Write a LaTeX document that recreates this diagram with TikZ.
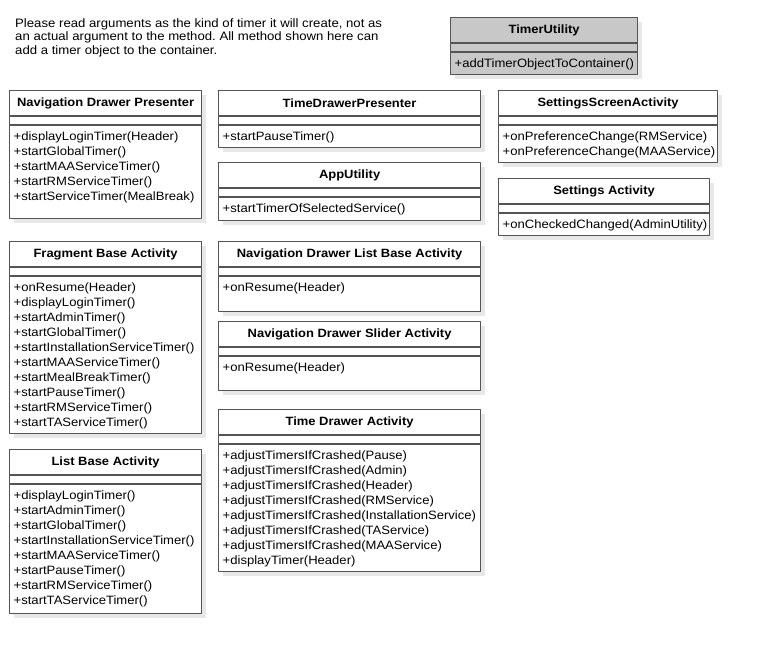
\documentclass[tikz,border=0pt]{standalone}
\usepackage{fontspec}
\setmainfont{Liberation Sans}[FakeStretch=1.08]
\usetikzlibrary{positioning}
\definecolor{edgegray}{HTML}{555555}
\definecolor{shadowgray}{HTML}{E8E8E8}
\definecolor{headgray}{HTML}{C8C8C8}
\newcommand{\classbox}[8][white]{%
  \fill[boxshadow] (#3+5,#4+5) rectangle ++(#5,#6);
  \node[classframe,fill=#1,minimum width=#5pt,minimum height=#6pt,anchor=north west] (#2) at (#3,#4) {};
  \node[classtitle] (#2-t) at ([yshift=-13pt]#2.north) {#7};
  \draw[classframe] ([yshift=-26pt]#2.north west)--([yshift=-26pt]#2.north east)
    ([yshift=-35pt]#2.north west)--([yshift=-35pt]#2.north east);
  \node[classops] (#2-m) at ([xshift=1.5pt,yshift=-39pt]#2.north west) {#8};
}
\begin{document}
\frenchspacing
\begin{tikzpicture}[x=1pt, y=-1pt, line join=round,
  classframe/.style={draw=edgegray, line width=1.2pt, inner sep=0pt},
  boxshadow/.style={shadowgray},
  classtitle/.style={font=\bfseries\fontsize{12}{15}\selectfont, inner sep=0pt},
  classops/.style={font=\fontsize{12.1}{15}\selectfont, align=left, anchor=north west, inner sep=3pt}]
\useasboundingbox[fill=white] (0,0) rectangle (757,652);
\node[font=\fontsize{12.2}{13.5}\selectfont, align=left, anchor=north west, inner sep=0pt] (note) at (15,18)
  {Please read arguments as the kind of timer it will create, not as\\
   an actual argument to the method. All method shown here can\\
   add a timer object to the container.};
\classbox[headgray]{timerutil}{450}{17}{187}{57}{TimerUtility}{+addTimerObjectToContainer()}
% left column
\classbox{navpres}{9}{90}{192}{128}{Navigation Drawer Presenter}
  {+displayLoginTimer(Header)\\+startGlobalTimer()\\+startMAAServiceTimer()\\+startRMServiceTimer()\\+startServiceTimer(MealBreak)}
\classbox{fragbase}{9}{241}{192}{192}{Fragment Base Activity}
  {+onResume(Header)\\+displayLoginTimer()\\+startAdminTimer()\\+startGlobalTimer()\\+startInstallationServiceTimer()\\
   +startMAAServiceTimer()\\+startMealBreakTimer()\\+startPauseTimer()\\+startRMServiceTimer()\\+startTAServiceTimer()}
\classbox{listbase}{9}{449}{192}{164}{List Base Activity}
  {+displayLoginTimer()\\+startAdminTimer()\\+startGlobalTimer()\\+startInstallationServiceTimer()\\
   +startMAAServiceTimer()\\+startPauseTimer()\\+startRMServiceTimer()\\+startTAServiceTimer()}
% middle column
\classbox{timepres}{218}{90}{262}{57}{TimeDrawerPresenter}{+startPauseTimer()}
\classbox{apputil}{218}{162}{262}{58}{AppUtility}{+startTimerOfSelectedService()}
\classbox{navlist}{218}{241}{262}{70}{Navigation Drawer List Base Activity}{+onResume(Header)}
\classbox{navslider}{218}{321}{262}{69}{Navigation Drawer Slider Activity}{+onResume(Header)}
\classbox{timeact}{218}{409}{262}{162}{Time Drawer Activity}
  {+adjustTimersIfCrashed(Pause)\\+adjustTimersIfCrashed(Admin)\\+adjustTimersIfCrashed(Header)\\
   +adjustTimersIfCrashed(RMService)\\+adjustTimersIfCrashed(InstallationService)\\+adjustTimersIfCrashed(TAService)\\
   +adjustTimersIfCrashed(MAAService)\\+displayTimer(Header)}
% right column
\classbox{settscreen}{498}{90}{219}{72}{SettingsScreenActivity}
  {+onPreferenceChange(RMService)\\+onPreferenceChange(MAAService)}
\classbox{settact}{498}{178}{211}{57}{Settings Activity}{+onCheckedChanged(AdminUtility)}
\end{tikzpicture}
\end{document}
